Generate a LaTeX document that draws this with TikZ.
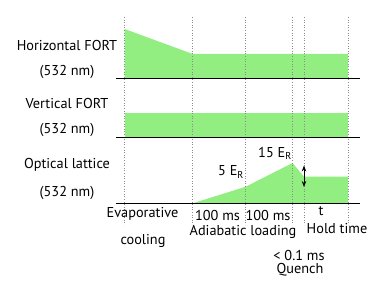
\documentclass[tikz,border=0pt]{standalone}
\usepackage{fontspec}
\setmainfont{PT Sans}
\usepackage{tikz}
\usetikzlibrary{arrows.meta, positioning}

\definecolor{beamgreen}{RGB}{146,238,128}

\begin{document}
\begin{tikzpicture}[
    x=1pt, y=-1pt,
    label/.style={font=\fontsize{14.3}{16}\selectfont, inner sep=0pt},
    pulse/.style={fill=beamgreen, draw=none},
    tick/.style={dotted, gray!90, line width=0.6pt},
    axis/.style={black, line width=0.8pt},
    arrow/.style={{Stealth[scale=0.9]}-{Stealth[scale=0.9]}, line width=0.8pt, black}
]
    \useasboundingbox (0,0) rectangle (382,288);

    % green pulses
    \fill [pulse] (124.7,29) -- (192.7,54) -- (348,54) -- (348,78.3) -- (124.7,78.3) -- cycle;
    \fill [pulse] (124.7,113.3) rectangle (348,137.3);
    \fill [pulse] (192.7,203.3) -- (245.7,186.7) -- (292.5,163) -- (304,176.7) -- (348,176.7) -- (348,203.3) -- cycle;

    % time markers
    \foreach \t in {124.7, 192.7, 245.7, 292.7, 304, 348}
        \draw [tick] (\t,17) -- (\t,225);

    % baselines
    \draw [axis] (116,78.3) -- (360,78.3);
    \draw [axis] (116,137.3) -- (360,137.3);
    \draw [axis] (116,203.3) -- (360,203.3);

    % channel names
    \node (hfort) [label] at (67,45) {Horizontal FORT};
    \node (hwave) [label] at (67,72) {(532 nm)};
    \node (vfort) [label] at (67,103) {Vertical FORT};
    \node (vwave) [label] at (67,130) {(532 nm)};
    \node (latt) [label] at (67,165) {Optical lattice};
    \node (lwave) [label] at (67,193) {(532 nm)};

    % depths
    \node (low) [label] at (231,172) {5 E\textsubscript{R}};
    \node (high) [label] at (275,153) {15 E\textsubscript{R}};

    % quench arrow
    \coordinate (qtop) at (304,165.5);
    \coordinate (qbot) at (304,187);
    \draw [arrow] (qtop) -- (qbot);

    % stages
    \node (evap) [label] at (142.5,214) {Evaporative};
    \node (cool) [label] at (143,241) {cooling};
    \node (ramp1) [label] at (217.5,215) {100 ms};
    \node (ramp2) [label] at (268,215) {100 ms};
    \node (adia) [label] at (243,232) {Adiabatic loading};
    \node (hold) [label] at (321,211) {t};
    \node (holdtxt) [label] at (337,229) {Hold time};
    \node (qtime) [label] at (299,255) {< 0.1 ms};
    \node (quench) [label] at (300,270) {Quench};
\end{tikzpicture}
\end{document}
